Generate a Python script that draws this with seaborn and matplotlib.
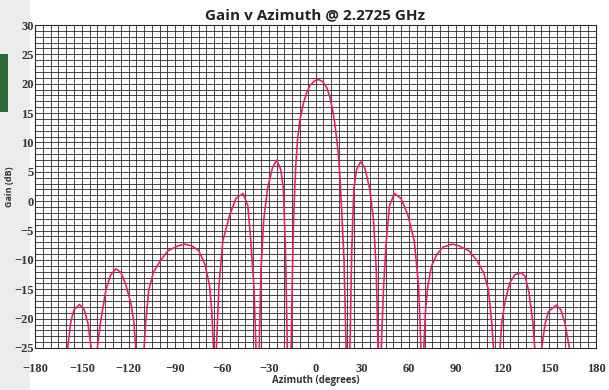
import pandas as pd
import matplotlib
matplotlib.use("Agg")
import matplotlib.pyplot as plt
from matplotlib.patches import Rectangle
from matplotlib.ticker import MultipleLocator
import seaborn as sns

# azimuth (degrees) and gain (dB), left to right
azimuth = [
    -159.5, -157, -155, -151.5, -148.5, -146, -144, -142,
    -140, -138, -134.5, -131.5, -128, -125, -122, -118.5, -116.5, -115.5, -113,
    -110, -109, -107, -104, -99.5, -94.5, -88, -84, -79.5, -75, -71, -68, -66.5, -65.5, -64.5,
    -63.5, -62, -59.5, -55, -51, -46.5, -43.5, -41.5, -39.5, -38.2, -37.2,
    -36.1, -35, -33.3, -30.8, -27.6, -24.9, -22.3, -20.6, -19.2, -18.1, -17,
    -15.6, -14.8, -14, -12.8, -11.5, -10, -7.6, -5.5, -3.3, -0.5,
    2, 4.5, 7.3, 9.2, 11, 12.5, 14.7, 15.8, 16.8, 18.3, 19.6, 21,
    22.1, 23.2, 24.6, 26.3, 28.9, 31.6, 34.8, 37.3, 39, 40.1, 41.2,
    42.2, 43.7, 45.4, 47.5, 50.7, 54.9, 59.2, 63.4, 66.2, 67.6, 68.5,
    69.5, 70.5, 72, 74.5, 78, 82, 87.7, 91.9, 98.3, 103.6, 107.8, 111, 113.1, 114.2, 116.2,
    118.4, 119.5, 121.5, 124.5, 128, 132, 134.5, 137, 139.5, 140.7, 143,
    145.1, 147.5, 149.5, 154.5, 157.5, 160, 162.9, 163.5,
]
gain = [
    -26, -20.5, -18.5, -17.6, -18.4, -20.8, -25, -40,
    -25, -20.7, -15.1, -12.6, -11.5, -12.1, -14, -17.3, -20.7, -24.5, -40,
    -25, -20.7, -15.1, -12.1, -10.1, -8.4, -7.6, -7.3, -7.6, -8.4, -10.7, -14.3, -19, -25, -40,
    -24.5, -14.6, -6.8, -2.3, 0.5, 1.3, -0.7, -6.8, -14.6, -25, -40,
    -25, -11.8, -3.4, 2.1, 5.7, 7.0, 5.4, 2.1, -9, -25, -40,
    -24.5, -12, -2.5, 5.5, 10.5, 13.8, 16.8, 18.6, 19.8, 20.5,
    20.7, 20.4, 19.3, 17.8, 15.5, 13, 8, 3.5, -1.5, -10, -24.5, -40,
    -25, -9, 2.1, 5.4, 6.7, 5.7, 2.1, -3.4, -11.8, -25, -40,
    -25, -14.6, -6.8, -0.7, 1.3, 0.45, -2.3, -6.8, -14.6, -24.5, -40,
    -25, -19, -14.5, -11, -9, -7.8, -7.3, -7.6, -8.4, -10.1, -12.1, -15.1, -20.7, -25, -40,
    -25, -20.7, -17.3, -14, -12.5, -12.2, -12.8, -15.5, -20.7, -25, -40,
    -25, -20.7, -18.8, -17.7, -18.5, -20.7, -25, -26,
]

df = pd.DataFrame({"Azimuth": azimuth, "Gain": gain})

sns.set_style("white")
fig = plt.figure(figsize=(6.09, 3.90), dpi=100)
fig.patch.set_facecolor("white")
# screenshot side strip
fig.patches.append(Rectangle((0, 0), 30 / 609, 1, transform=fig.transFigure,
                             facecolor="#ececec", edgecolor="none", zorder=-5))
fig.patches.append(Rectangle((0, 1 - 112 / 390), 8 / 609, 58 / 390, transform=fig.transFigure,
                             facecolor="#2e6b34", edgecolor="none", zorder=-4))

ax = fig.add_axes([35 / 609, 1 - 348 / 390, 561 / 609, 323 / 390])
ax.set_facecolor("white")
ax.set_zorder(2)

sns.lineplot(data=df, x="Azimuth", y="Gain", sort=False, ax=ax,
             color="#e3245a", linewidth=1.2, zorder=3)

ax.set_xlim(-180, 180)
ax.set_ylim(-25, 30)
ax.xaxis.set_major_locator(MultipleLocator(30))
ax.xaxis.set_minor_locator(MultipleLocator(5))
ax.yaxis.set_major_locator(MultipleLocator(5))
ax.yaxis.set_minor_locator(MultipleLocator(1))
ax.grid(True, which="both", color="#2a2a2a", linewidth=0.6)
ax.set_axisbelow(True)
ax.tick_params(which="both", length=0)
ax.tick_params(axis="x", pad=11)
ax.tick_params(axis="y", pad=1)
for lab in ax.get_xticklabels() + ax.get_yticklabels():
    lab.set_fontfamily("Liberation Serif")
    lab.set_fontweight("bold")
    lab.set_fontsize(9)
    lab.set_color("#333333")
for s in ax.spines.values():
    s.set_color("#2a2a2a")
    s.set_linewidth(0.8)

ax.set_title("Gain v Azimuth @ 2.2725 GHz", fontsize=11, fontweight="bold",
             fontfamily="Open Sans", color="#222222", pad=4)
ax.set_xlabel("Azimuth (degrees)", fontsize=7, fontweight="bold",
              fontfamily="Open Sans", color="#333333", labelpad=0)
ax.set_ylabel("Gain (dB)", fontsize=6.5, fontweight="bold",
              fontfamily="Open Sans", color="#333333", labelpad=0)

fig.savefig("out.png", dpi=100)
